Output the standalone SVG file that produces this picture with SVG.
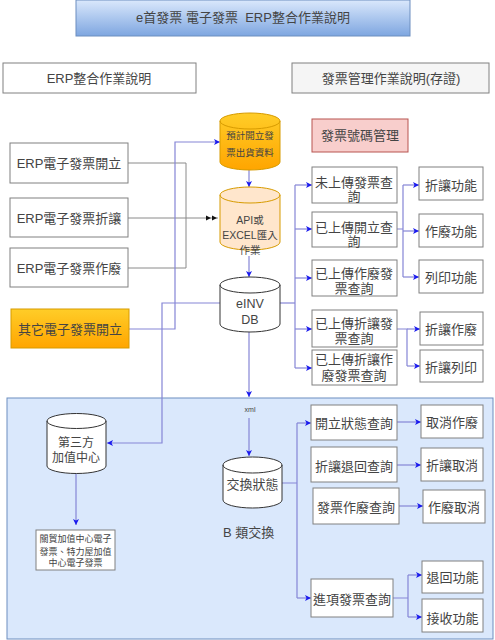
<svg xmlns="http://www.w3.org/2000/svg" width="495" height="640" viewBox="0 0 495 640">
<defs>
<linearGradient id="gTitle" x1="0" y1="0" x2="0" y2="1"><stop offset="0" stop-color="#dae8fc"/><stop offset="1" stop-color="#7ea6e0"/></linearGradient>
<linearGradient id="gOrange" x1="0" y1="0" x2="0" y2="1"><stop offset="0" stop-color="#ffcd28"/><stop offset="1" stop-color="#ffa500"/></linearGradient>
<marker id="ab" markerUnits="userSpaceOnUse" markerWidth="8" markerHeight="8" refX="7" refY="4" orient="auto"><path d="M1,1 L7,4 L1,7 L2.5,4 Z" fill="#1a1aee"/></marker>
<marker id="ak" markerUnits="userSpaceOnUse" markerWidth="14" markerHeight="8" refX="13" refY="4" orient="auto"><path d="M1,1.5 L6,4 L1,6.5 Z M7,1.5 L12,4 L7,6.5 Z" fill="#111"/></marker>
<style>
text{font-family:"Liberation Sans","Noto Sans CJK TC",sans-serif;font-size:13px;fill:#444;text-anchor:middle}
.box{fill:#fff;stroke:#808080;stroke-width:1}
.ln{fill:none;stroke:#8585d6;stroke-width:1.2}
.lg{fill:none;stroke:#8a8a8a;stroke-width:1}
.arr{marker-end:url(#ab)}
</style>
</defs>

<rect id="panel" x="7" y="398" width="486" height="241" fill="#dae8fc" stroke="#6c8ebf"/>

<g id="title"><rect x="76" y="0" width="334" height="36" fill="url(#gTitle)" stroke="#6c8ebf"/><text x="243" y="22" style="white-space:pre">e首發票 電子發票  ERP整合作業說明</text></g>
<g id="hdrL"><rect class="box" x="3" y="63" width="193" height="30"/><text x="99" y="83">ERP整合作業說明</text></g>
<g id="hdrR"><rect x="292" y="63" width="197" height="30" fill="#f5f5f5" stroke="#808080"/><text x="391" y="83">發票管理作業說明(存證)</text></g>

<g id="connectors">
<path class="lg" d="M128,163 H186 V268 H128"/>
<path class="lg" d="M128,218 H218" marker-end="url(#ak)"/>
<path class="ln arr" d="M129,329 H175 V142 H220"/>
<path class="ln arr" d="M220,303 H162 V443 H107"/>
<path class="ln arr" d="M249,170 V187"/>
<path class="ln arr" d="M249,256 V277"/>
<path class="ln arr" d="M249,332 V397"/>
<path class="ln arr" d="M249,418 V456"/>
<path class="ln" d="M279,303 H295"/>
<path class="ln" d="M295,185 V368"/>
<path class="ln arr" d="M295,185 H312"/>
<path class="ln arr" d="M295,229 H312"/>
<path class="ln arr" d="M295,278 H312"/>
<path class="ln arr" d="M295,329 H312"/>
<path class="ln arr" d="M295,368 H312"/>
<path class="ln" d="M397,229 H403 M403,185 V277"/>
<path class="ln arr" d="M403,185 H419"/>
<path class="ln arr" d="M403,231 H419"/>
<path class="ln arr" d="M403,277 H419"/>
<path class="ln" d="M397,329 H407 V366"/>
<path class="ln arr" d="M407,329 H420"/>
<path class="ln arr" d="M407,366 H420"/>
<path class="ln arr" d="M76,473 V525"/>
<path class="ln" d="M282,483 H297 M297,423 V598"/>
<path class="ln arr" d="M297,423 H311"/>
<path class="ln arr" d="M297,598 H311"/>
<path class="ln arr" d="M397,422 H421"/>
<path class="ln arr" d="M397,465 H421"/>
<path class="ln arr" d="M399,506 H423"/>
<path class="ln" d="M393,598 H408 M408,575 V617"/>
<path class="ln arr" d="M408,575 H422"/>
<path class="ln arr" d="M408,617 H422"/>
</g>

<g id="erpOpen"><rect class="box" x="10" y="143" width="118" height="40"/><text x="69" y="168">ERP電子發票開立</text></g>
<g id="erpAllow"><rect class="box" x="10" y="198" width="118" height="39"/><text x="69" y="223">ERP電子發票折讓</text></g>
<g id="erpVoid"><rect class="box" x="10" y="248" width="118" height="39"/><text x="69" y="273">ERP電子發票作廢</text></g>
<g id="otherOpen"><rect x="11" y="309" width="118" height="39" fill="url(#gOrange)" stroke="#d79b00"/><text x="70" y="334">其它電子發票開立</text></g>

<g id="plan"><path d="M220,121 a30,8 0 0,1 60,0 v41 a30,8 0 0,1 -60,0 z" fill="url(#gOrange)" stroke="#d79b00"/><path d="M220,121 a30,8 0 0,0 60,0" fill="none" stroke="#d79b00"/><text x="250" y="139" style="font-size:9.5px">預計開立發</text><text x="250" y="156" style="font-size:9.5px">票出貨資料</text></g>
<g id="api"><path d="M220,195 a30,8 0 0,1 60,0 v47 a30,8 0 0,1 -60,0 z" fill="#ffe6cc" stroke="#d79b00"/><path d="M220,195 a30,8 0 0,0 60,0" fill="none" stroke="#d79b00"/><text x="250" y="224" style="font-size:10.5px">API或</text><text x="250" y="239" style="font-size:10.5px">EXCEL匯入</text><text x="250" y="254" style="font-size:10.5px">作業</text></g>
<g id="einv"><path d="M220,285 a30,8 0 0,1 60,0 v39 a30,8 0 0,1 -60,0 z" fill="#fff" stroke="#333"/><path d="M220,285 a30,8 0 0,0 60,0" fill="none" stroke="#333"/><text x="250" y="308" style="font-size:12.5px">eINV</text><text x="250" y="324" style="font-size:12.5px">DB</text></g>

<g id="numMgmt"><rect x="312" y="119" width="96" height="33" fill="#f8cecc" stroke="#b85450"/><text x="360" y="140">發票號碼管理</text></g>
<g id="q1"><rect class="box" x="312" y="167" width="85" height="36"/><text x="354" y="187">未上傳發票查</text><text x="354" y="201">詢</text></g>
<g id="q2"><rect class="box" x="312" y="212" width="85" height="35"/><text x="354" y="232">已上傳開立查</text><text x="354" y="246">詢</text></g>
<g id="q3"><rect class="box" x="312" y="260" width="85" height="36"/><text x="354" y="278">已上傳作廢發</text><text x="354" y="293">票查詢</text></g>
<g id="q4"><rect class="box" x="312" y="310" width="85" height="37"/><text x="354" y="328">已上傳折讓發</text><text x="354" y="343">票查詢</text></g>
<g id="q5"><rect class="box" x="312" y="350" width="85" height="35"/><text x="354" y="364">已上傳折讓作</text><text x="354" y="380">廢發票查詢</text></g>
<g id="f1"><rect class="box" x="419" y="167" width="64" height="33"/><text x="451" y="190">折讓功能</text></g>
<g id="f2"><rect class="box" x="419" y="214" width="64" height="33"/><text x="451" y="236">作廢功能</text></g>
<g id="f3"><rect class="box" x="419" y="260" width="64" height="33"/><text x="451" y="282">列印功能</text></g>
<g id="f4"><rect class="box" x="420" y="312" width="63" height="33"/><text x="451" y="334">折讓作廢</text></g>
<g id="f5"><rect class="box" x="420" y="350" width="63" height="32"/><text x="451" y="372">折讓列印</text></g>

<g id="vac"><path d="M47,421 a29.5,7.5 0 0,1 59,0 v45 a29.5,7.5 0 0,1 -59,0 z" fill="#fff" stroke="#333"/><path d="M47,421 a29.5,7.5 0 0,0 59,0" fill="none" stroke="#333"/><text x="76" y="447" style="font-size:12px">第三方</text><text x="76" y="462" style="font-size:12px">加值中心</text></g>
<g id="vacNote"><rect class="box" x="36" y="530" width="79" height="40"/><text x="75.5" y="542" style="font-size:9px">關貿加值中心電子</text><text x="75.5" y="555" style="font-size:9px">發票、特力屋加值</text><text x="75.5" y="566" style="font-size:9px">中心電子發票</text></g>

<text x="250" y="412" style="font-size:7px">xml</text>
<g id="xchg"><path d="M223,465 a29.5,8 0 0,1 59,0 v35 a29.5,8 0 0,1 -59,0 z" fill="#fff" stroke="#333"/><path d="M223,465 a29.5,8 0 0,0 59,0" fill="none" stroke="#333"/><text x="252.5" y="489">交換狀態</text></g>
<text x="223" y="537" style="text-anchor:start">B 類交換</text>

<g id="b1"><rect class="box" x="311" y="405" width="86" height="35"/><text x="354" y="428">開立狀態查詢</text></g>
<g id="b2"><rect class="box" x="311" y="447" width="86" height="35"/><text x="354" y="471">折讓退回查詢</text></g>
<g id="b3"><rect class="box" x="313" y="488" width="86" height="36"/><text x="356" y="512">發票作廢查詢</text></g>
<g id="b4"><rect class="box" x="311" y="579" width="82" height="38"/><text x="352" y="604">進項發票查詢</text></g>
<g id="c1"><rect class="box" x="421" y="405" width="62" height="33"/><text x="452" y="427">取消作廢</text></g>
<g id="c2"><rect class="box" x="421" y="448" width="62" height="33"/><text x="452" y="470">折讓取消</text></g>
<g id="c3"><rect class="box" x="423" y="490" width="62" height="33"/><text x="454" y="512">作廢取消</text></g>
<g id="c4"><rect class="box" x="422" y="561" width="61" height="32"/><text x="452.5" y="582">退回功能</text></g>
<g id="c5"><rect class="box" x="422" y="599" width="61" height="33"/><text x="452.5" y="623">接收功能</text></g>
</svg>
